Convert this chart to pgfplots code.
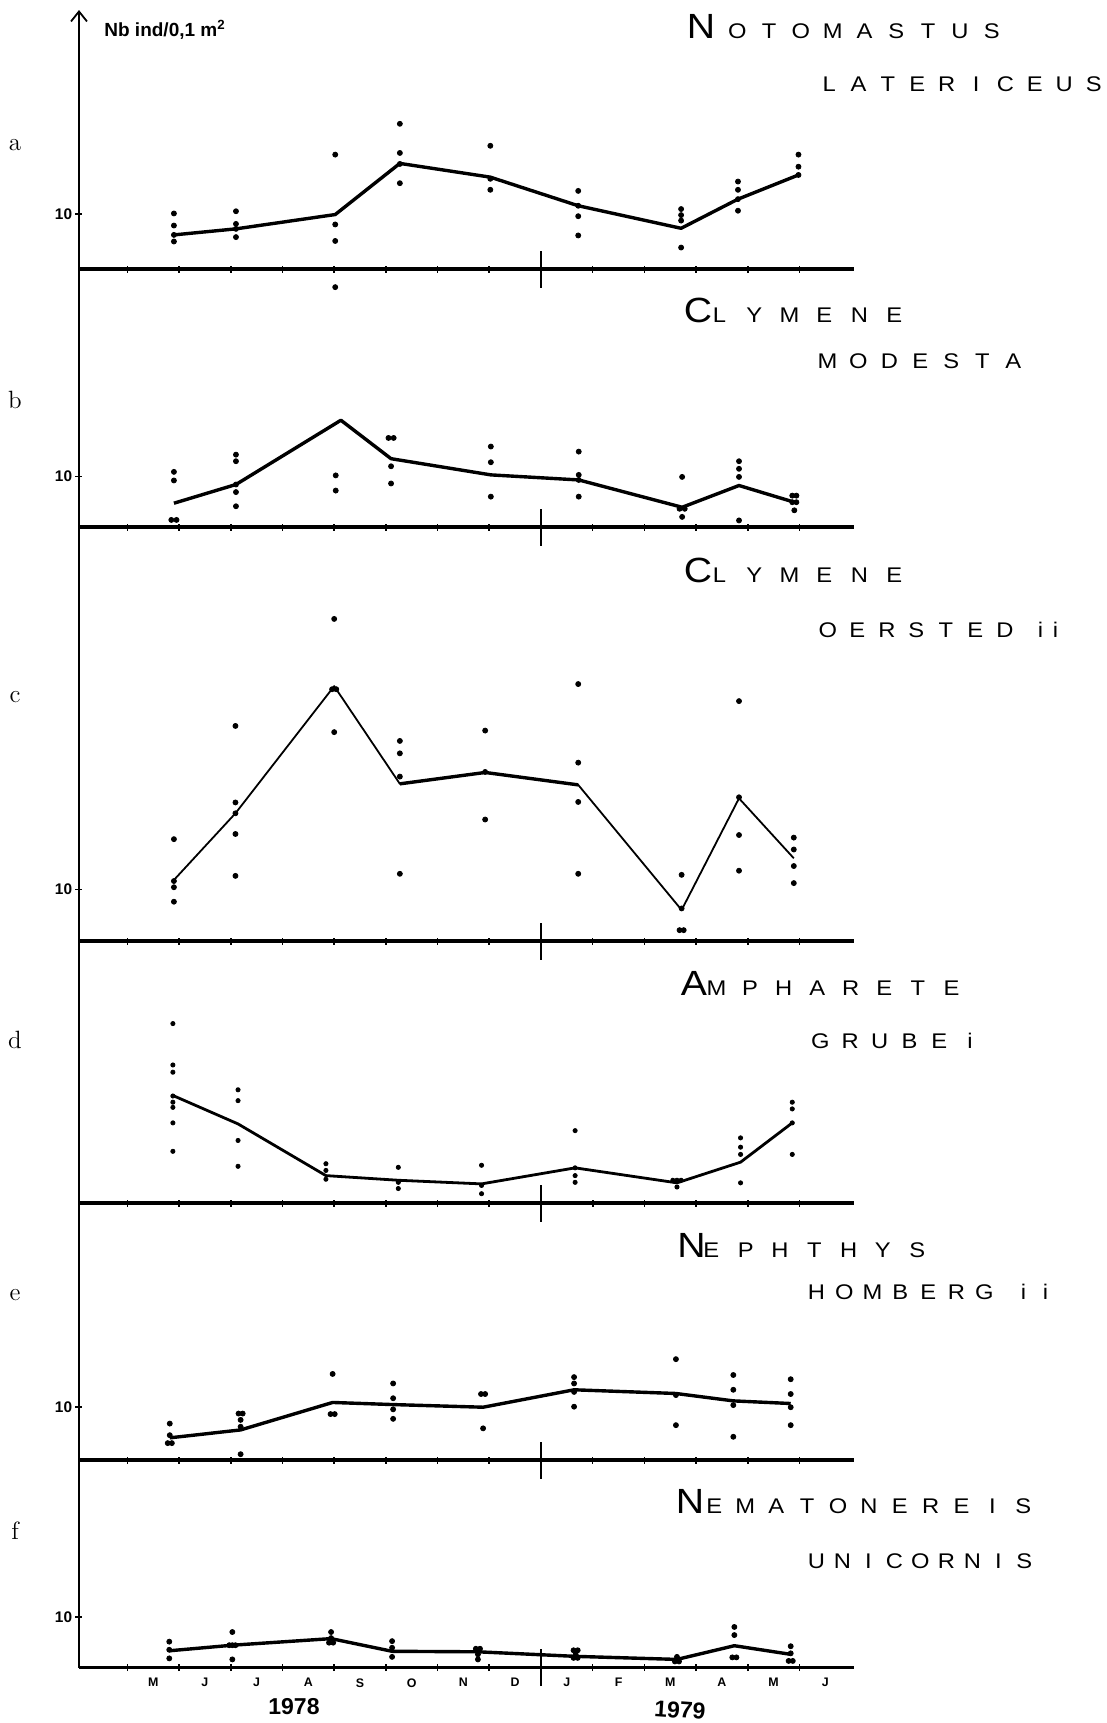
\documentclass[border=0pt]{standalone}
\usepackage{fontspec}
\usepackage{pgfplots}
\pgfplotsset{compat=1.18}
\usetikzlibrary{arrows.meta}
\setmainfont{Latin Modern Roman}
\newfontfamily\hand{Liberation Sans}
\newfontfamily\plotter{Liberation Sans}[FakeStretch=1.12]

% letters set at a fixed pitch, as a pen plotter writes them
\makeatletter
\newcommand\pitched[2]{\@tfor\pl@ch:=#2\do{\makebox[#1]{\pl@ch}}}
\makeatother
\newcommand\bigini{\plotter\fontsize{17.5}{18}\selectfont}
\newcommand\spsmall{\plotter\fontsize{10.6}{11}\selectfont}

\pgfplotsset{
  panel/.style={
    anchor=south west,
    x=25.85pt,
    xmin=-0.936, xmax=14.05, ymin=0,
    axis x line*=bottom, axis y line*=left,
    tick pos=left,
    x axis line style={-, line width=1.7pt},
    y axis line style={-, line width=0.9pt},
    xtick={0,...,13}, xticklabels={},
    extra x ticks={8}, extra x tick labels={},
    extra x tick style={major tick length=18.5pt, tick style={line width=1pt}},
    tick align=center,
    major tick length=3.5pt,
    tick style={black, line width=0.8pt},
    ytick={10}, yticklabels={10},
    yticklabel style={font=\hand\bfseries\fontsize{7.7}{8}\selectfont, inner sep=1.5pt},
    clip=false,
  },
  dots/.style={only marks, mark=*, mark size=1.25pt, black},
  mean/.style={black, line width=1.7pt, mark=none, line join=round},
}

\begin{document}
\begin{tikzpicture}
\begin{scope}[x=0.5pt,y=-0.5pt]
\path[use as bounding box] (0,0) rectangle (1107,1723);
% panel letters
\foreach \l/\yy in {a/150,b/408,c/702,d/1048,e/1300,f/1539}
  \node[anchor=base, inner sep=0] at (15,\yy) {\fontsize{12.5}{13}\selectfont \l};
% unit of the ordinate
\node[anchor=base west, inner sep=0] at (104,37)
  {\hand\bfseries\fontsize{9.5}{10}\selectfont Nb ind/0,1 m\textsuperscript{2}};
% species names
\node[anchor=base, inner sep=0] at (701,39) {\bigini N};
\node[anchor=base west, inner sep=0] at (721,39) {\spsmall\pitched{15.9pt}{OTOMASTUS}};
\node[anchor=base west, inner sep=0] at (814,92) {\spsmall\pitched{14.7pt}{LATERICEUS}};

\node[anchor=base, inner sep=0] at (698,322) {\bigini C};
\node[anchor=base west, inner sep=0] at (701.5,322) {\spsmall\pitched{17.5pt}{LYMENE}};
\node[anchor=base west, inner sep=0] at (811.5,368) {\spsmall\pitched{15.5pt}{MODESTA}};

\node[anchor=base, inner sep=0] at (698,582) {\bigini C};
\node[anchor=base west, inner sep=0] at (701.5,582) {\spsmall\pitched{17.5pt}{LYMENE}};
\node[anchor=base west, inner sep=0] at (812.75,637) {\spsmall\pitched{14.75pt}{OERSTED}};
\node[anchor=base west, inner sep=0] at (1032.5,637) {\spsmall\pitched{7.5pt}{ii}};

\node[anchor=base, inner sep=0] at (694,995) {\bigini A};
\node[anchor=base west, inner sep=0] at (699.2,995) {\spsmall\pitched{16.8pt}{MPHARETE}};
\node[anchor=base west, inner sep=0] at (805.15,1048) {\spsmall\pitched{14.85pt}{GRUBE}};
\node[anchor=base, inner sep=0] at (970,1048) {\spsmall i};

\node[anchor=base, inner sep=0] at (691.5,1257) {\bigini N};
\node[anchor=base west, inner sep=0] at (693.85,1257) {\spsmall\pitched{17.15pt}{EPHTHYS}};
\node[anchor=base west, inner sep=0] at (802,1299) {\spsmall\pitched{14pt}{HOMBERG}};
\node[anchor=base west, inner sep=0] at (1012,1299) {\spsmall\pitched{11pt}{ii}};

\node[anchor=base, inner sep=0] at (690,1513) {\bigini N};
\node[anchor=base west, inner sep=0] at (698.55,1513) {\spsmall\pitched{15.45pt}{EMATONEREIS}};
\node[anchor=base west, inner sep=0] at (803,1568) {\spsmall\pitched{13pt}{UNICORNIS}};
% years under the month axis
\node[inner sep=0] at (294,1707) {\hand\bfseries\fontsize{11.5}{12}\selectfont 1978};
\node[inner sep=0, rotate=-4] at (680,1710) {\hand\bfseries\fontsize{11.5}{12}\selectfont 1979};
\end{scope}

% a : Notomastus latericeus
\begin{axis}[panel, at={(39.5pt,-134.5pt)}, y=2.75pt, ymax=47.09,
  y axis line style={-{Straight Barb[length=5pt,width=8pt]}, line width=0.9pt}]
\addplot[dots] coordinates {
 (0.9,10.1) (0.9,7.9) (0.9,6.2) (0.9,5.0)
 (2.1,10.5) (2.1,8.2) (2.1,7.3) (2.1,5.8)
 (4.02,20.8) (4.02,8.1) (4.02,5.1) (4.02,-3.3)
 (5.27,26.4) (5.27,21.1) (5.27,19.1) (5.27,15.6)
 (7.02,22.4) (7.02,16.4) (7.02,14.4)
 (8.72,14.2) (8.72,11.5) (8.72,9.6) (8.72,6.1)
 (10.71,10.9) (10.71,9.8) (10.71,8.8) (10.71,3.9)
 (11.81,15.9) (11.81,14.4) (11.81,12.7) (11.81,10.6)
 (12.98,20.8) (12.98,18.6) (12.98,17.1)};
\addplot[mean] coordinates {
 (0.9,6.2) (2.1,7.3) (4.02,9.9) (5.27,19.2) (7.02,16.7)
 (8.72,11.5) (10.71,7.4) (11.81,12.7) (12.98,17.1)};
\end{axis}

% b : Clymene modesta
\begin{axis}[panel, at={(39.5pt,-263.5pt)}, y=2.53pt, ymax=50.99]
\addplot[dots] coordinates {
 (0.9,10.9) (0.9,9.2) (0.85,1.4) (0.95,1.4)
 (2.1,14.3) (2.1,13.0) (2.1,8.4) (2.1,6.9) (2.1,4.1)
 (4.03,10.2) (4.03,7.2)
 (5.05,17.6) (5.15,17.6) (5.1,12.0) (5.1,8.6)
 (7.03,15.9) (7.03,12.8) (7.03,6.0)
 (8.73,14.9) (8.73,10.3) (8.73,9.3) (8.73,6.0)
 (10.73,9.9) (10.68,3.6) (10.78,3.6) (10.73,2.0)
 (11.83,13.0) (11.83,11.5) (11.83,9.9) (11.83,1.3)
 (12.86,6.2) (12.94,6.2) (12.86,4.9) (12.94,4.9) (12.9,3.3)};
\addplot[mean] coordinates {
 (0.9,4.7) (2.1,8.4) (4.13,21.1) (5.1,13.5) (7.03,10.3)
 (8.73,9.3) (10.73,3.9) (11.83,8.2) (12.9,4.9)};
\end{axis}

% c : Clymene oerstedii
\begin{axis}[panel, at={(39.5pt,-470.5pt)}, y=2.585pt, ymax=80.08]
\addplot[dots] coordinates {
 (0.9,19.7) (0.9,11.6) (0.9,10.4) (0.9,7.6)
 (2.09,41.6) (2.09,26.8) (2.09,24.7) (2.09,20.7) (2.09,12.6)
 (4.0,62.3) (3.96,48.7) (4.04,48.7) (4.0,40.4)
 (5.27,38.7) (5.27,36.3) (5.27,31.8) (5.27,13.0)
 (6.92,40.7) (6.92,32.7) (6.92,23.5)
 (8.72,49.7) (8.72,34.5) (8.72,26.9) (8.72,13.0)
 (10.72,12.8) (10.72,6.3) (10.68,2.1) (10.76,2.1)
 (11.83,46.4) (11.83,27.8) (11.83,20.5) (11.83,13.6)
 (12.89,20.0) (12.89,17.7) (12.89,14.5) (12.89,11.2)};
\addplot[mean, line width=0.9pt] coordinates {
 (0.9,11.8) (2.09,24.7) (4.0,49.3) (5.27,30.4) (6.92,32.6)
 (8.72,30.2) (10.72,6.0) (11.83,27.6) (12.89,16.0)};
\addplot[mean] coordinates {(5.27,30.4) (6.92,32.6) (8.72,30.2)};
\end{axis}

% d : Ampharete grubei
\begin{axis}[panel, at={(39.5pt,-601.5pt)}, y=2.585pt, ymax=50.68, ytick=\empty]
\addplot[dots, mark size=1.05pt] coordinates {
 (0.88,34.7) (0.88,26.7) (0.88,25.3) (0.88,20.7) (0.88,19.5) (0.88,18.5) (0.88,15.5) (0.88,10.0)
 (2.14,21.9) (2.14,19.8) (2.14,12.1) (2.14,7.1)
 (3.84,7.6) (3.84,6.3) (3.84,4.6)
 (5.24,6.9) (5.24,4.0) (5.24,2.8)
 (6.85,7.3) (6.85,3.4) (6.85,1.8)
 (8.66,14.0) (8.66,6.8) (8.66,5.3) (8.66,4.0)
 (10.55,4.4) (10.63,4.4) (10.71,4.4) (10.63,3.1)
 (11.86,12.6) (11.86,10.8) (11.86,9.4) (11.86,3.9)
 (12.86,19.5) (12.86,18.2) (12.86,15.5) (12.86,9.4)};
\addplot[mean, line width=1.4pt] coordinates {
 (0.88,20.8) (2.14,15.3) (3.84,5.3) (5.24,4.4) (6.85,3.7)
 (8.66,6.8) (10.63,3.9) (11.86,7.9) (12.86,15.5)};
\end{axis}

% e : Nephthys hombergii
\begin{axis}[panel, at={(39.5pt,-730pt)}, y=2.64pt, ymax=48.67]
\addplot[dots] coordinates {
 (0.82,6.9) (0.82,4.7) (0.78,3.2) (0.86,3.2)
 (2.15,8.8) (2.23,8.8) (2.19,7.6) (2.19,6.3) (2.19,1.1)
 (3.97,16.3) (3.93,8.7) (4.01,8.7)
 (5.14,14.5) (5.14,11.7) (5.14,9.6) (5.14,7.8)
 (6.84,12.5) (6.92,12.5) (6.88,6.0)
 (8.64,15.7) (8.64,14.5) (8.64,12.9) (8.64,10.1)
 (10.61,19.1) (10.61,12.3) (10.61,6.6)
 (11.72,16.1) (11.72,13.3) (11.72,10.4) (11.72,4.4)
 (12.83,15.3) (12.83,12.5) (12.83,10.0) (12.83,6.6)};
\addplot[mean] coordinates {
 (0.82,4.2) (2.19,5.7) (3.97,10.9) (5.14,10.5) (6.88,10.0)
 (8.64,13.3) (10.61,12.6) (11.72,11.2) (12.83,10.7)};
\end{axis}

% f : Nematonereis unicornis, with the month axis
\begin{axis}[panel, at={(39.5pt,-833.75pt)}, y=2.535pt, ymax=40.93,
  xticklabels={M,J,J,A,S,O,N,D,J,F,M,A,M,J},
  xticklabel style={font=\hand\bfseries\fontsize{6.2}{7}\selectfont, xshift=12.925pt, inner sep=0pt, yshift=-3.5pt}]
\addplot[dots] coordinates {
 (0.81,5.1) (0.81,3.5) (0.81,1.8)
 (2.03,7.0) (1.97,4.4) (2.03,4.4) (2.09,4.4) (2.03,1.6)
 (3.94,7.0) (3.94,5.8) (3.9,4.9) (3.98,4.9)
 (5.12,5.2) (5.12,3.9) (5.12,2.1)
 (6.74,3.7) (6.82,3.7) (6.78,2.6) (6.78,1.6)
 (8.63,3.4) (8.71,3.4) (8.67,2.6) (8.63,1.9) (8.71,1.9)
 (10.63,2.1) (10.59,1.2) (10.67,1.2)
 (11.74,8.0) (11.74,6.4) (11.70,2.0) (11.78,2.0)
 (12.83,4.2) (12.83,2.8) (12.79,1.3) (12.87,1.3)};
\addplot[mean] coordinates {
 (0.81,3.3) (2.03,4.4) (3.94,5.7) (5.12,3.2) (6.78,3.1)
 (8.67,2.2) (10.63,1.6) (11.74,4.3) (12.83,2.6)};
\end{axis}
\end{tikzpicture}
\end{document}
